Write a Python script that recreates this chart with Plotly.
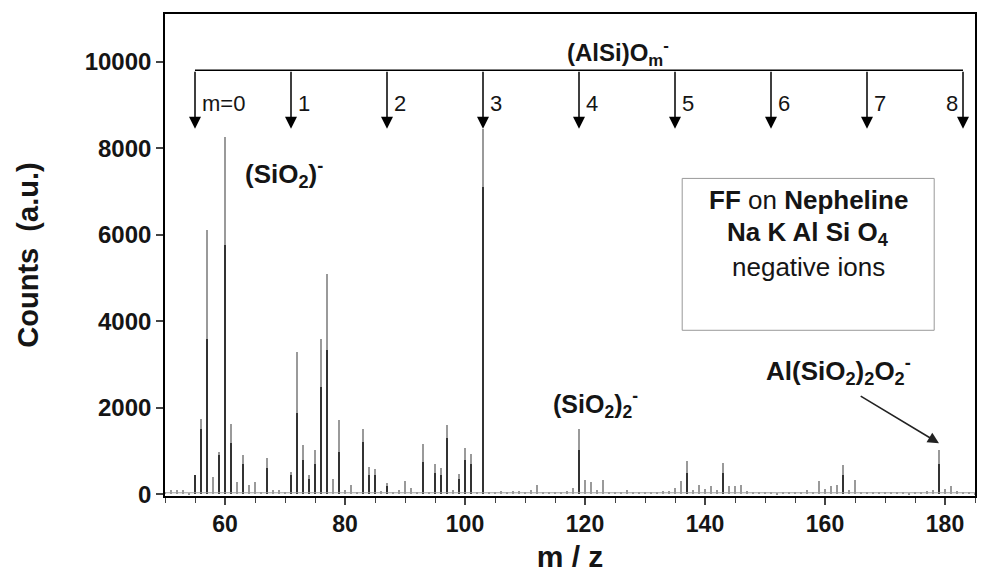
import plotly.graph_objects as go

# ---- data ----
mz = list(range(50, 186))
counts = [60, 90, 90, 90, 40, 440, 1730, 6100, 400, 980,
          8250, 1620, 290, 900, 210, 290, 60, 830, 100, 100,
          60, 520, 3290, 1130, 440, 1020, 3600, 5100, 360, 1710,
          90, 210, 60, 1520, 630, 590, 80, 260, 55, 90,
          300, 140, 55, 1160, 50, 700, 610, 1600, 110, 480,
          1060, 920, 60, 8450, 60, 50, 80, 60, 80, 70,
          60, 90, 210, 60, 50, 60, 50, 80, 140, 1500,
          320, 290, 90, 320, 60, 50, 60, 110, 50, 60,
          50, 60, 60, 70, 80, 140, 310, 760, 90, 210,
          130, 190, 110, 730, 190, 190, 210, 70, 50, 50,
          60, 50, 40, 50, 60, 50, 60, 110, 60, 300,
          130, 200, 210, 670, 90, 320, 60, 50, 50, 60,
          50, 50, 60, 50, 40, 50, 60, 80, 100, 1020,
          130, 190, 80, 60, 50, 40]
baseline_level = 35

# darker, lower overlapping trace
mz_dark = [55, 56, 57, 59, 60, 61, 63, 67, 71, 72, 73, 74, 75, 76, 77, 79,
           83, 84, 85, 87, 93, 95, 96, 97, 99, 100, 101, 103, 119, 137, 143, 163, 179]
counts_dark = [440, 1500, 3600, 900, 5750, 1180, 700, 600, 450, 1870, 800, 350, 700, 2480, 3330, 980,
               1210, 450, 450, 200, 750, 500, 450, 1290, 350, 800, 700, 7100, 1020, 500, 500, 450, 700]

# (AlSi)O_m^- series
m_values = [0, 1, 2, 3, 4, 5, 6, 7, 8]
m_mz = [55, 71, 87, 103, 119, 135, 151, 167, 183]
m_labels = ["m=0", "1", "2", "3", "4", "5", "6", "7", "8"]
bar_level = 9800
arrow_tip = 8450

x_ticks = [60, 80, 100, 120, 140, 160, 180]
y_ticks = [0, 2000, 4000, 6000, 8000, 10000]

FONT = "Liberation Sans, Arial, sans-serif"
TXT = "#151515"

fig = go.Figure()
fig.add_trace(go.Scatter(x=[mz[0], mz[-1]], y=[baseline_level, baseline_level], mode="lines",
                         line=dict(color="#a0a0a0", width=1.2), showlegend=False, hoverinfo="skip"))
fig.add_trace(go.Bar(x=mz, y=counts, width=0.32, marker=dict(color="#9a9a9a", line=dict(width=0)),
                     showlegend=False))
fig.add_trace(go.Bar(x=mz_dark, y=counts_dark, width=0.14, marker=dict(color="#333333", line=dict(width=0)),
                     showlegend=False))

# horizontal bracket line
fig.add_shape(type="line", x0=m_mz[0], x1=m_mz[-1], y0=bar_level, y1=bar_level,
              xref="x", yref="y", line=dict(color="black", width=1.6))

for i, (xv, lab) in enumerate(zip(m_mz, m_labels)):
    last = i == len(m_mz) - 1
    fig.add_annotation(x=xv, y=arrow_tip, ax=xv, ay=bar_level, axref="x", ayref="y",
                       xref="x", yref="y", showarrow=True, arrowhead=2, arrowsize=1.6,
                       arrowwidth=1.5, arrowcolor="black", text="")
    fig.add_annotation(x=xv, y=9030, xref="x", yref="y", text=lab, showarrow=False,
                       xanchor="right" if last else "left", xshift=-3 if last else 5,
                       font=dict(family=FONT, size=22, color=TXT))

fig.add_annotation(x=125.5, y=10200, xref="x", yref="y", showarrow=False,
                   text="<b>(AlSi)O<sub>m</sub><sup>-</sup></b>",
                   font=dict(family=FONT, size=24, color=TXT))

fig.add_annotation(x=69.8, y=7400, xref="x", yref="y", showarrow=False,
                   text="<b>(SiO<sub>2</sub>)<sup>-</sup></b>",
                   font=dict(family=FONT, size=26, color=TXT))
fig.add_annotation(x=121.8, y=2080, xref="x", yref="y", showarrow=False,
                   text="<b>(SiO<sub>2</sub>)<sub>2</sub><sup>-</sup></b>",
                   font=dict(family=FONT, size=25, color=TXT))
fig.add_annotation(x=162.3, y=2840, xref="x", yref="y", showarrow=False,
                   text="<b>Al(SiO<sub>2</sub>)<sub>2</sub>O<sub>2</sub><sup>-</sup></b>",
                   font=dict(family=FONT, size=26, color=TXT))
fig.add_annotation(x=179, y=1180, ax=165.7, ay=2290, axref="x", ayref="y", xref="x", yref="y",
                   showarrow=True, arrowhead=2, arrowsize=1.4, arrowwidth=1.6, arrowcolor="#222", text="")

# info box
fig.add_shape(type="rect", x0=136.2, x1=178.2, y0=3790, y1=7300, xref="x", yref="y",
              line=dict(color="#999", width=1))
fig.add_annotation(x=157.2, y=6800, xref="x", yref="y", showarrow=False,
                   text="<b>FF</b> on <b>Nepheline</b>", font=dict(family=FONT, size=26, color=TXT))
fig.add_annotation(x=157.2, y=6020, xref="x", yref="y", showarrow=False,
                   text="<b>Na K Al Si O<sub>4</sub></b>", font=dict(family=FONT, size=26, color=TXT))
fig.add_annotation(x=157.2, y=5250, xref="x", yref="y", showarrow=False,
                   text="negative ions", font=dict(family=FONT, size=26, color=TXT))

fig.update_layout(
    width=985, height=586,
    margin=dict(l=165, r=10, t=14, b=90),
    paper_bgcolor="white", plot_bgcolor="white",
    barmode="overlay", bargap=0,
    font=dict(family=FONT, color=TXT),
)
fig.update_xaxes(range=[50, 185], tickvals=x_ticks, ticktext=[f"<b>{v}</b>" for v in x_ticks],
                 ticks="outside", ticklen=7, tickwidth=1.5,
                 minor=dict(dtick=5, ticks="outside", ticklen=5, tickwidth=1.3),
                 showline=True, linecolor="black", linewidth=1.6, mirror=True, showgrid=False,
                 zeroline=False, automargin=False,
                 tickfont=dict(family=FONT, size=23, color=TXT),
                 title=dict(text="<b>m / z</b>", font=dict(family=FONT, size=30, color=TXT), standoff=10))
fig.update_yaxes(range=[-40, 11100], tickvals=y_ticks, ticktext=[f"<b>{v}</b>" for v in y_ticks],
                 ticks="outside", ticklen=7, tickwidth=1.5,
                 showline=True, linecolor="black", linewidth=1.6, mirror=True, showgrid=False,
                 zeroline=False, automargin=False,
                 tickfont=dict(family=FONT, size=24, color=TXT),
                 title=dict(text="<b>Counts  (a.u.)</b>", font=dict(family=FONT, size=29, color=TXT), standoff=38))

fig.write_html("out.html", config={"displayModeBar": False},
               post_script="document.body.style.margin='0';document.body.style.overflow='hidden';")
